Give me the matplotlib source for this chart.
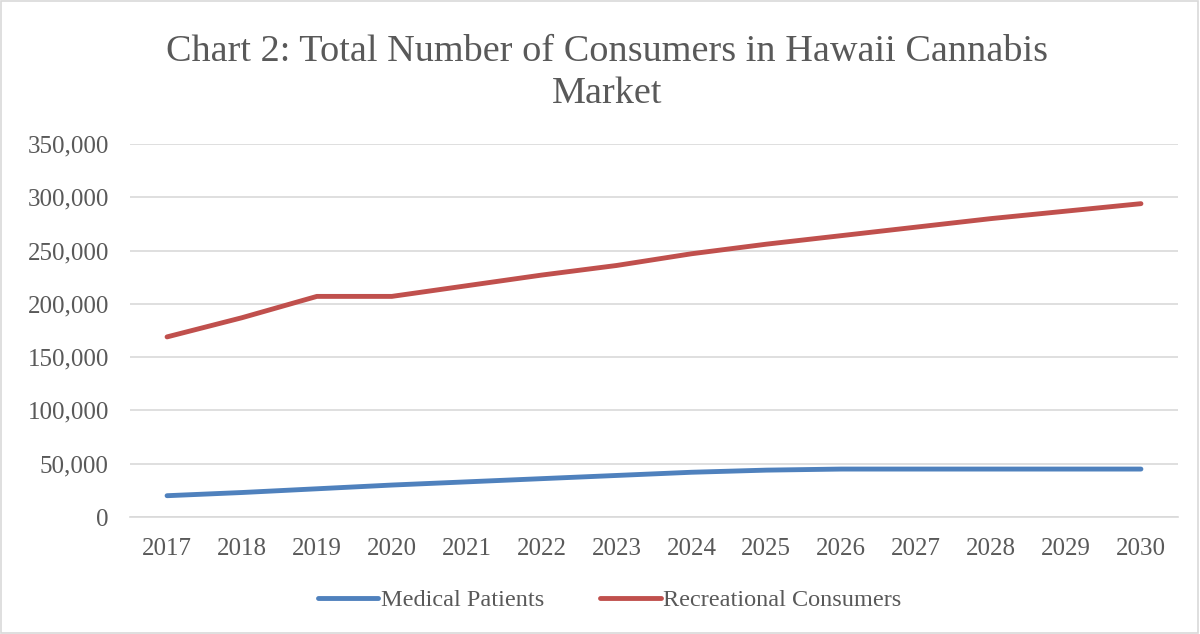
"""
plot.py — Chart 2: Total Number of Consumers in Hawaii Cannabis Market
"""

import matplotlib
matplotlib.use("Agg")
import matplotlib.pyplot as plt
from matplotlib.ticker import FuncFormatter, MultipleLocator
from matplotlib.patches import Rectangle

# ---- data ----
years = ['2017', '2018', '2019', '2020', '2021', '2022', '2023',
         '2024', '2025', '2026', '2027', '2028', '2029', '2030']
medical_patients = [20000, 23000, 26500, 30000, 33000, 36000, 39000,
                    42000, 44000, 45000, 45000, 45000, 45000, 45000]
recreational_consumers = [169000, 187000, 207000, 207000, 217000, 227000, 236000,
                          247000, 256000, 264000, 272000, 280000, 287000, 294000]

series_names = ['Medical Patients', 'Recreational Consumers']
title_text = 'Chart 2: Total Number of Consumers in Hawaii Cannabis\nMarket'

TEXT_COLOR = '#595959'
GRID_COLOR = '#D9D9D9'
BLUE = '#4F81BD'
RED = '#C0504D'

plt.rcParams['font.family'] = ['Liberation Serif', 'DejaVu Serif']


def main():
    fig = plt.figure(figsize=(12, 6.34), dpi=100)
    ax = fig.add_axes([0.108, 0.1845, 0.874, 0.5884])

    x = range(len(years))
    ax.plot(x, medical_patients, color=BLUE, linewidth=3.5,
            solid_capstyle='round', label=series_names[0])
    ax.plot(x, recreational_consumers, color=RED, linewidth=3.5,
            solid_capstyle='round', label=series_names[1])

    # 坐标轴
    ax.set_xlim(-0.5, len(years) - 0.5)
    ax.set_ylim(0, 350000)
    ax.set_xticks(list(x))
    ax.set_xticklabels(years)
    ax.yaxis.set_major_locator(MultipleLocator(50000))
    ax.yaxis.set_major_formatter(FuncFormatter(lambda v, p: f'{int(v):,}'))
    ax.tick_params(axis='both', length=0, labelsize=18, colors=TEXT_COLOR)
    ax.tick_params(axis='x', pad=15)
    ax.tick_params(axis='y', pad=15)

    ax.grid(axis='y', color=GRID_COLOR, linewidth=1.2)
    ax.set_axisbelow(True)
    for side in ['top', 'right', 'left']:
        ax.spines[side].set_visible(False)
    ax.spines['bottom'].set_color(GRID_COLOR)
    ax.spines['bottom'].set_linewidth(1.2)

    # 标题
    fig.text(0.506, 0.946, title_text, ha='center', va='top',
             fontsize=27.5, color=TEXT_COLOR, linespacing=1.3)

    # 图例
    leg = fig.legend(loc='center', bbox_to_anchor=(0.508, 0.053), ncol=2,
                     frameon=False, fontsize=17.5, handlelength=2.5,
                     handletextpad=0.1, columnspacing=2.3)
    for text in leg.get_texts():
        text.set_color(TEXT_COLOR)

    # 外边框
    fig.patches.append(Rectangle((0.001, 0.001), 0.997, 0.997,
                                 transform=fig.transFigure, fill=False,
                                 edgecolor=GRID_COLOR, linewidth=1.2))

    fig.savefig('out.png', dpi=100)
    plt.close(fig)


if __name__ == '__main__':
    main()
